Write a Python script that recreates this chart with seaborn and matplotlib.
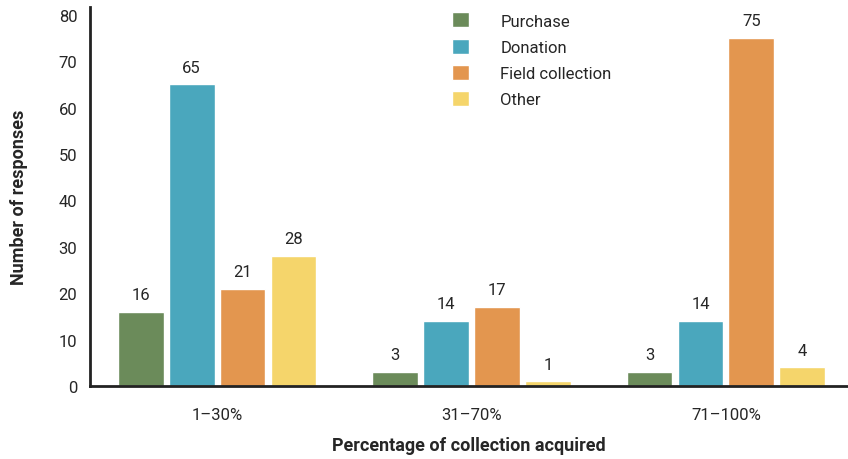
from matplotlib import pyplot as plt
import pandas as pd
import seaborn as sns

# data
groups = ['1–30%', '31–70%', '71–100%']
sources = ['Purchase', 'Donation', 'Field collection', 'Other']
purchase = [16, 3, 3]
donation = [65, 14, 14]
field = [21, 17, 75]
other = [28, 1, 4]
colors = ['#6b8b5a', '#4aa7bd', '#e3964f', '#f5d56b']

rows = []
for src, vals in zip(sources, [purchase, donation, field, other]):
    for g, v in zip(groups, vals):
        rows.append({'group': g, 'source': src, 'count': v})
df = pd.DataFrame(rows)

sns.set_style("white")
plt.rcParams['font.family'] = ['Roboto', 'DejaVu Sans']
text_col = '#262626'

fig = plt.figure(figsize=(8.48, 4.6), dpi=100)
ax = fig.add_axes([0.106, 0.1587, 0.894, 0.824])

sns.barplot(ax=ax, data=df, x='group', y='count', hue='source',
            order=groups, hue_order=sources, palette=colors,
            saturation=1, width=0.8, gap=0.1, legend=True)

# value labels
for cont in ax.containers:
    ax.bar_label(cont, padding=7, fontsize=12, color=text_col)

ax.set_ylim(0, 81.7)
ax.set_xlim(-0.5, 2.48)
ax.set_yticks(range(0, 81, 10))
ax.tick_params(axis='y', length=0, pad=9, labelsize=12, labelcolor=text_col)
ax.tick_params(axis='x', which='major', length=0, pad=15, labelsize=12,
               labelcolor=text_col)
ax.set_xticks([0.5, 1.5], minor=True)
ax.tick_params(axis='x', which='minor', length=9, width=1.5,
               direction='out', color='#222222')

ax.set_xlabel('Percentage of collection acquired', fontsize=13,
              fontweight='bold', color=text_col, labelpad=10)
ax.set_ylabel('Number of responses', fontsize=13, fontweight='bold',
              color=text_col, labelpad=22)

sns.despine(ax=ax)
for s in ['left', 'bottom']:
    ax.spines[s].set_linewidth(2)
    ax.spines[s].set_color('#222222')

leg = ax.legend(loc='upper left', bbox_to_anchor=(0.458, 1.025), frameon=False,
                fontsize=12, handlelength=1.0, handleheight=1.0,
                handletextpad=1.9, labelspacing=0.6, labelcolor=text_col)

plt.savefig('out.png', dpi=100)
